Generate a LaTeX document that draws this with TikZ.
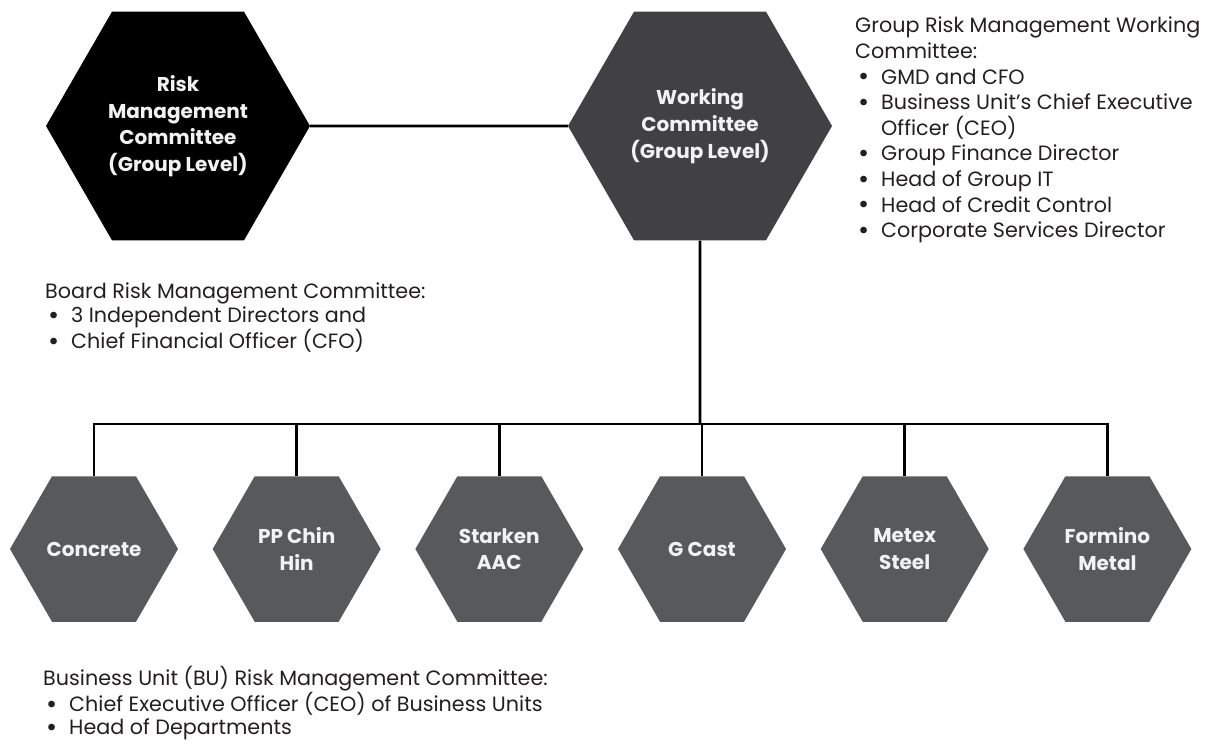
\documentclass[tikz,border=0pt]{standalone}
\usepackage{fontspec}
\setmainfont{Poppins}
\usetikzlibrary{shapes.geometric, positioning}

\definecolor{hexblack}{HTML}{000000}
\definecolor{hexdark}{HTML}{414042}
\definecolor{hexgrey}{HTML}{58595B}
\definecolor{inktext}{HTML}{231F20}

% bullet with a fixed hanging indent
\newcommand{\bitem}{\makebox[26pt][l]{\hspace{3pt}\raisebox{-1.6pt}{\scalebox{1.3}{\textbullet}}}}
\newcommand{\bcont}{\hspace*{26pt}}

\begin{document}
\begin{tikzpicture}[
    x=1pt, y=-1pt,
    hexbox/.style={regular polygon, regular polygon sides=6, inner sep=0pt, align=center,
        text=white!95!black, font=\bfseries\fontsize{20}{26.7}\selectfont},
    bighex/.style={hexbox, minimum size=264pt},
    smallhex/.style={hexbox, minimum size=168pt, fill=hexgrey},
    notes/.style={anchor=north west, inner sep=0pt, align=left, text=inktext,
        font=\fontsize{20.7}{24}\selectfont},
    link/.style={draw=black, line width=2.6pt}
]
\useasboundingbox (0,0) rectangle (1214,745);

% Group level
\node[bighex, fill=hexblack] (rmc) at (178,126) {Risk\\Management\\Committee\\(Group Level)};
\node[bighex, fill=hexdark] (wc) at (700,126) {Working\\Committee\\(Group Level)};

% Business units
\node[smallhex] (concrete) at (94,549) {Concrete};
\node[smallhex, right=34.2pt of concrete] (ppch) {PP Chin\\Hin};
\node[smallhex, right=34.2pt of ppch] (starken) {Starken\\AAC};
\node[smallhex, right=34.2pt of starken] (gcast) {G Cast};
\node[smallhex, right=34.2pt of gcast] (metex) {Metex\\Steel};
\node[smallhex, right=34.2pt of metex] (formino) {Formino\\Metal};

% Membership notes
\node[notes, font=\fontsize{20.7}{25.6}\selectfont] (wcnote) at (855,17) {Group Risk Management Working\\
    Committee:\\
    \bitem GMD and CFO\\
    \bitem Business Unit’s Chief Executive\\
    \bcont Officer (CEO)\\
    \bitem Group Finance Director\\
    \bitem Head of Group IT\\
    \bitem Head of Credit Control\\
    \bitem Corporate Services Director};
\node[notes] (boardnote) at (45,283) {Board Risk Management Committee:\\
    \bitem 3 Independent Directors and\\
    \bitem Chief Financial Officer (CFO)};
\node[notes, font=\fontsize{20.7}{23.4}\selectfont] (bunote) at (43,666) {Business Unit (BU) Risk Management Committee:\\
    \bitem Chief Executive Officer (CEO) of Business Units\\
    \bitem Head of Departments};

% Connections
\coordinate (bus) at (700,424);
\draw[link] (rmc.east) -- (wc.west);
\draw[link] (wc.south) -- (bus);
\draw[link] (concrete.north) -- (concrete.north |- bus) -- (formino.north |- bus) -- (formino.north);
\foreach \u in {ppch, starken, gcast, metex}
    \draw[link] (\u.north) -- (\u.north |- bus);

\end{tikzpicture}
\end{document}
